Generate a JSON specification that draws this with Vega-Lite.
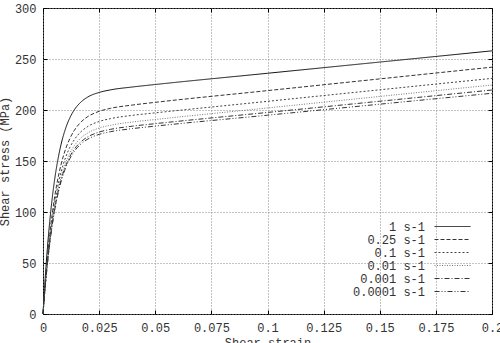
{
  "$schema": "https://vega.github.io/schema/vega-lite/v6.json",
  "width": 449,
  "height": 306,
  "autosize": {"type": "none"},
  "padding": {"left": 43, "top": 8, "right": 8, "bottom": 29},
  "background": "white",
  "config": {
    "view": {"stroke": "#000", "strokeWidth": 1},
    "font": "Liberation Mono",
    "axis": {
      "labelFont": "Liberation Mono", "labelFontSize": 12, "labelColor": "#333",
      "titleFont": "Liberation Mono", "titleFontSize": 12, "titleFontWeight": "normal", "titleColor": "#333",
      "domain": false, "tickColor": "#000", "tickSize": -4, "tickWidth": 1,
      "gridColor": "#888", "gridDash": [1, 2], "gridOpacity": 1, "gridWidth": 1,
      "labelOverlap": false, "labelFlush": false
    },
    "legend": {
      "orient": "none", "legendX": 403, "legendY": 212,
      "padding": 0, "symbolType": "M-3,0H3", "symbolSize": 144, "symbolStrokeWidth": 1,
      "labelAlign": "right", "labelOffset": -34, "labelFont": "Liberation Mono", "labelFontSize": 12,
      "labelColor": "#333", "rowPadding": 0, "labelLimit": 300, "symbolOffset": 0
    }
  },
  "data": {"values": [
    {"rate":"1 s-1","strain":0,"stress":0},{"rate":"1 s-1","strain":0.001,"stress":35.8},{"rate":"1 s-1","strain":0.002,"stress":65.7},{"rate":"1 s-1","strain":0.003,"stress":90.6},{"rate":"1 s-1","strain":0.004,"stress":111.5},{"rate":"1 s-1","strain":0.005,"stress":128.9},{"rate":"1 s-1","strain":0.006,"stress":143.4},{"rate":"1 s-1","strain":0.008,"stress":165.8},{"rate":"1 s-1","strain":0.010,"stress":181.5},{"rate":"1 s-1","strain":0.012,"stress":192.5},{"rate":"1 s-1","strain":0.014,"stress":200.3},{"rate":"1 s-1","strain":0.017,"stress":208.0},{"rate":"1 s-1","strain":0.020,"stress":212.8},{"rate":"1 s-1","strain":0.025,"stress":217.2},{"rate":"1 s-1","strain":0.03,"stress":219.7},{"rate":"1 s-1","strain":0.04,"stress":222.6},{"rate":"1 s-1","strain":0.05,"stress":225},{"rate":"1 s-1","strain":0.1,"stress":236},{"rate":"1 s-1","strain":0.15,"stress":247},{"rate":"1 s-1","strain":0.2,"stress":258},
    {"rate":"0.25 s-1","strain":0,"stress":0},{"rate":"0.25 s-1","strain":0.001,"stress":30.3},{"rate":"0.25 s-1","strain":0.002,"stress":56.0},{"rate":"0.25 s-1","strain":0.003,"stress":77.8},{"rate":"0.25 s-1","strain":0.004,"stress":96.3},{"rate":"0.25 s-1","strain":0.005,"stress":112.0},{"rate":"0.25 s-1","strain":0.006,"stress":125.3},{"rate":"0.25 s-1","strain":0.008,"stress":146.2},{"rate":"0.25 s-1","strain":0.010,"stress":161.3},{"rate":"0.25 s-1","strain":0.012,"stress":172.2},{"rate":"0.25 s-1","strain":0.014,"stress":180.2},{"rate":"0.25 s-1","strain":0.017,"stress":188.4},{"rate":"0.25 s-1","strain":0.020,"stress":193.6},{"rate":"0.25 s-1","strain":0.025,"stress":198.7},{"rate":"0.25 s-1","strain":0.03,"stress":201.6},{"rate":"0.25 s-1","strain":0.04,"stress":204.9},{"rate":"0.25 s-1","strain":0.05,"stress":207.5},{"rate":"0.25 s-1","strain":0.1,"stress":219},{"rate":"0.25 s-1","strain":0.15,"stress":230.5},{"rate":"0.25 s-1","strain":0.2,"stress":242},
    {"rate":"0.1 s-1","strain":0,"stress":0},{"rate":"0.1 s-1","strain":0.001,"stress":28.8},{"rate":"0.1 s-1","strain":0.002,"stress":53.2},{"rate":"0.1 s-1","strain":0.003,"stress":73.9},{"rate":"0.1 s-1","strain":0.004,"stress":91.4},{"rate":"0.1 s-1","strain":0.005,"stress":106.3},{"rate":"0.1 s-1","strain":0.006,"stress":118.9},{"rate":"0.1 s-1","strain":0.008,"stress":138.8},{"rate":"0.1 s-1","strain":0.010,"stress":153.1},{"rate":"0.1 s-1","strain":0.012,"stress":163.5},{"rate":"0.1 s-1","strain":0.014,"stress":171.1},{"rate":"0.1 s-1","strain":0.017,"stress":178.9},{"rate":"0.1 s-1","strain":0.020,"stress":183.9},{"rate":"0.1 s-1","strain":0.025,"stress":188.7},{"rate":"0.1 s-1","strain":0.03,"stress":191.5},{"rate":"0.1 s-1","strain":0.04,"stress":194.8},{"rate":"0.1 s-1","strain":0.05,"stress":197.2},{"rate":"0.1 s-1","strain":0.1,"stress":208.5},{"rate":"0.1 s-1","strain":0.15,"stress":219.8},{"rate":"0.1 s-1","strain":0.2,"stress":231},
    {"rate":"0.01 s-1","strain":0,"stress":0},{"rate":"0.01 s-1","strain":0.001,"stress":27.8},{"rate":"0.01 s-1","strain":0.002,"stress":51.3},{"rate":"0.01 s-1","strain":0.003,"stress":71.3},{"rate":"0.01 s-1","strain":0.004,"stress":88.2},{"rate":"0.01 s-1","strain":0.005,"stress":102.6},{"rate":"0.01 s-1","strain":0.006,"stress":114.8},{"rate":"0.01 s-1","strain":0.008,"stress":134.0},{"rate":"0.01 s-1","strain":0.010,"stress":147.8},{"rate":"0.01 s-1","strain":0.012,"stress":157.9},{"rate":"0.01 s-1","strain":0.014,"stress":165.2},{"rate":"0.01 s-1","strain":0.017,"stress":172.8},{"rate":"0.01 s-1","strain":0.020,"stress":177.6},{"rate":"0.01 s-1","strain":0.025,"stress":182.3},{"rate":"0.01 s-1","strain":0.03,"stress":185.0},{"rate":"0.01 s-1","strain":0.04,"stress":188.3},{"rate":"0.01 s-1","strain":0.05,"stress":190.7},{"rate":"0.01 s-1","strain":0.1,"stress":202},{"rate":"0.01 s-1","strain":0.15,"stress":213.3},{"rate":"0.01 s-1","strain":0.2,"stress":224.5},
    {"rate":"0.001 s-1","strain":0,"stress":0},{"rate":"0.001 s-1","strain":0.001,"stress":27.2},{"rate":"0.001 s-1","strain":0.002,"stress":50.2},{"rate":"0.001 s-1","strain":0.003,"stress":69.8},{"rate":"0.001 s-1","strain":0.004,"stress":86.3},{"rate":"0.001 s-1","strain":0.005,"stress":100.4},{"rate":"0.001 s-1","strain":0.006,"stress":112.3},{"rate":"0.001 s-1","strain":0.008,"stress":131.1},{"rate":"0.001 s-1","strain":0.010,"stress":144.6},{"rate":"0.001 s-1","strain":0.012,"stress":154.5},{"rate":"0.001 s-1","strain":0.014,"stress":161.7},{"rate":"0.001 s-1","strain":0.017,"stress":169.0},{"rate":"0.001 s-1","strain":0.020,"stress":173.7},{"rate":"0.001 s-1","strain":0.025,"stress":178.4},{"rate":"0.001 s-1","strain":0.03,"stress":181.0},{"rate":"0.001 s-1","strain":0.04,"stress":184.2},{"rate":"0.001 s-1","strain":0.05,"stress":186.6},{"rate":"0.001 s-1","strain":0.1,"stress":197.6},{"rate":"0.001 s-1","strain":0.15,"stress":208.6},{"rate":"0.001 s-1","strain":0.2,"stress":219.6},
    {"rate":"0.0001 s-1","strain":0,"stress":0},{"rate":"0.0001 s-1","strain":0.001,"stress":26.8},{"rate":"0.0001 s-1","strain":0.002,"stress":49.6},{"rate":"0.0001 s-1","strain":0.003,"stress":68.9},{"rate":"0.0001 s-1","strain":0.004,"stress":85.2},{"rate":"0.0001 s-1","strain":0.005,"stress":99.1},{"rate":"0.0001 s-1","strain":0.006,"stress":110.9},{"rate":"0.0001 s-1","strain":0.008,"stress":129.4},{"rate":"0.0001 s-1","strain":0.010,"stress":142.8},{"rate":"0.0001 s-1","strain":0.012,"stress":152.5},{"rate":"0.0001 s-1","strain":0.014,"stress":159.6},{"rate":"0.0001 s-1","strain":0.017,"stress":166.9},{"rate":"0.0001 s-1","strain":0.020,"stress":171.5},{"rate":"0.0001 s-1","strain":0.025,"stress":176.1},{"rate":"0.0001 s-1","strain":0.03,"stress":178.7},{"rate":"0.0001 s-1","strain":0.04,"stress":181.8},{"rate":"0.0001 s-1","strain":0.05,"stress":184.2},{"rate":"0.0001 s-1","strain":0.1,"stress":194.9},{"rate":"0.0001 s-1","strain":0.15,"stress":205.7},{"rate":"0.0001 s-1","strain":0.2,"stress":216.4}
  ]},
  "layer": [
    {
      "mark": {"type": "line", "strokeWidth": 1, "interpolate": "monotone"},
      "encoding": {
        "x": {"field": "strain", "type": "quantitative",
              "scale": {"domain": [0, 0.2], "nice": false},
              "axis": {"orient": "bottom", "values": [0, 0.025, 0.05, 0.075, 0.1, 0.125, 0.15, 0.175, 0.2],
                       "labelExpr": "'' + datum.value", "grid": true, "title": "Shear strain", "labelPadding": 12, "titlePadding": 4}},
        "y": {"field": "stress", "type": "quantitative",
              "scale": {"domain": [0, 300], "nice": false},
              "axis": {"orient": "left", "values": [0, 50, 100, 150, 200, 250, 300],
                       "grid": true, "title": "Shear stress (MPa)", "labelPadding": 11, "titlePadding": 3}},
        "strokeDash": {"field": "rate", "type": "nominal",
              "scale": {"domain": ["1 s-1", "0.25 s-1", "0.1 s-1", "0.01 s-1", "0.001 s-1", "0.0001 s-1"],
                        "range": [[1, 0], [4, 2], [2, 2], [1, 1.5], [5, 2, 1, 2], [5, 2, 1, 2, 1, 2]]},
              "legend": {"title": null}},
        "color": {"field": "rate", "type": "nominal",
              "scale": {"domain": ["1 s-1", "0.25 s-1", "0.1 s-1", "0.01 s-1", "0.001 s-1", "0.0001 s-1"],
                        "range": ["#111", "#333", "#444", "#777", "#333", "#333"]},
              "legend": {"title": null}}
      }
    },
    {
      "mark": {"type": "point", "opacity": 0},
      "encoding": {
        "x": {"field": "strain", "type": "quantitative",
              "axis": {"orient": "top", "values": [0, 0.025, 0.05, 0.075, 0.1, 0.125, 0.15, 0.175, 0.2],
                       "labels": false, "grid": false, "title": null}},
        "y": {"field": "stress", "type": "quantitative",
              "axis": {"orient": "right", "values": [0, 50, 100, 150, 200, 250, 300],
                       "labels": false, "grid": false, "title": null}}
      }
    }
  ],
  "resolve": {"axis": {"x": "independent", "y": "independent"}}
}
